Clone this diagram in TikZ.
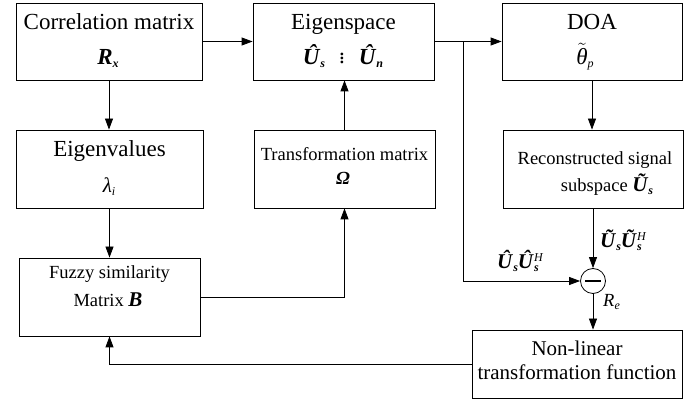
\documentclass[tikz,border=0pt]{standalone}
\usepackage{fontspec}
\setmainfont{Liberation Serif}
\usepackage{amsmath}
\usetikzlibrary{arrows.meta}
\newcommand{\bi}[1]{\textbf{\textit{#1}}}
\newcommand{\szA}{\fontsize{23}{27}\selectfont}
\newcommand{\szB}{\fontsize{18.5}{22}\selectfont}
\newcommand{\szC}{\fontsize{21}{24}\selectfont}
\newcommand{\szS}{\fontsize{12}{12}\selectfont}
\newcommand{\lo}[1]{\raisebox{-3pt}{\szS #1}}
\newcommand{\losup}[2]{\makebox[0pt][l]{\raisebox{-3pt}{\szS #1}}\raisebox{7pt}{\szS #2}}
\begin{document}
\begin{tikzpicture}[x=1pt,y=-1pt,
  blk/.style={draw, line width=0.8pt, rectangle, inner sep=0pt},
  txt/.style={anchor=base, inner sep=0pt},
  lbl/.style={anchor=base west, inner sep=0pt},
  conn/.style={line width=0.8pt},
  arr/.style={line width=0.8pt, -{Triangle[length=11pt,width=8pt]}}]
\path[use as bounding box] (0,0) rectangle (696,411);
% boxes
\node[blk, minimum width=186pt, minimum height=77pt] (corr) at (109,41.5) {};
\node[blk, minimum width=181pt, minimum height=77pt] (eig) at (343.5,41.5) {};
\node[blk, minimum width=180pt, minimum height=77pt] (doa) at (592,41.5) {};
\node[blk, minimum width=187pt, minimum height=78pt] (eigval) at (109.5,169) {};
\node[blk, minimum width=181pt, minimum height=78pt] (trans) at (344.5,169) {};
\node[blk, minimum width=180pt, minimum height=78pt] (rec) at (593,169) {};
\node[blk, minimum width=181pt, minimum height=78pt] (fuzzy) at (109.5,297) {};
\node[blk, minimum width=210pt, minimum height=68pt] (nl) at (577,364) {};
\node[draw, line width=0.8pt, circle, minimum size=25pt, inner sep=0pt] (circ) at (593,281) {};
\draw[line width=2pt] ([xshift=-8pt]circ.center) -- ([xshift=8pt]circ.center);
% texts
\node[txt] (t1) at (109,30) {\szA Correlation matrix};
\node[txt] (t2) at (108,65) {\szA\bi{R}\lo{\bi{x}}};
\node[txt] (t3) at (343.5,30) {\szA Eigenspace};
\node[txt] (t4) at (343,65) {\szA\bi{Û}\lo{\bi{s}}\hspace{14pt}\raisebox{1pt}{$\vdots$}\hspace{14pt}\bi{Û}\lo{\bi{n}}};
\node[txt] (t7) at (592,30) {\szA DOA};
\node[txt] (t8) at (585,65) {\szA$\tilde{\text{\itshape θ}}$\lo{\textit{p}}};
\node[txt] (t9) at (109.5,157) {\szA Eigenvalues};
\node[txt] (t10) at (109,193) {\szC\textit{λ}\lo{\textit{i}}};
\node[txt] (t11) at (344.5,161) {\szB Transformation matrix};
\node[txt] (t12) at (343,185) {\szB\bi{Ω}};
\node[txt] (t13) at (595,165) {\szB Reconstructed signal};
\node[txt] (t14) at (607,192) {\szB subspace \szC\bi{Ũ}\lo{\bi{s}}};
\node[txt] (t15) at (109.5,279) {\szB Fuzzy similarity};
\node[txt] (t16) at (108,307) {\szB Matrix \szC\bi{B}};
\node[txt] (t17) at (577,356) {\szC Non-linear};
\node[txt] (t18) at (577,380) {\szC transformation function};
\node[lbl] (l1) at (600,248) {\szC\bi{Ũ}\lo{\bi{s}}\bi{Ũ}\losup{\bi{s}}{\textit{H}}};
\node[lbl] (l2) at (497,269) {\szC\bi{Û}\lo{\bi{s}}\bi{Û}\losup{\bi{s}}{\textit{H}}};
\node[lbl] (l3) at (603,307) {\szB\textit{R}\lo{\textit{e}}};
% connectors
\coordinate (br) at (463,41.5);
\draw[arr] (corr.east) -- (eig.west);
\draw[conn] (eig.east) -- (br);
\draw[arr] (br) -- (doa.west);
\draw[arr] (br) |- (circ.west);
\draw[arr] (corr.south) -- (corr.south |- eigval.north);
\draw[arr] (eigval.south) -- (eigval.south |- fuzzy.north);
\draw[arr] (trans.north) -- (trans.north |- eig.south);
\draw[arr] (fuzzy.east) -| (trans.south);
\draw[arr] (doa.south) -- (doa.south |- rec.north);
\draw[arr] (circ.north |- rec.south) -- (circ.north);
\draw[arr] (circ.south) -- (circ.south |- nl.north);
\draw[arr] (nl.west) -| (fuzzy.south);
\end{tikzpicture}
\end{document}
